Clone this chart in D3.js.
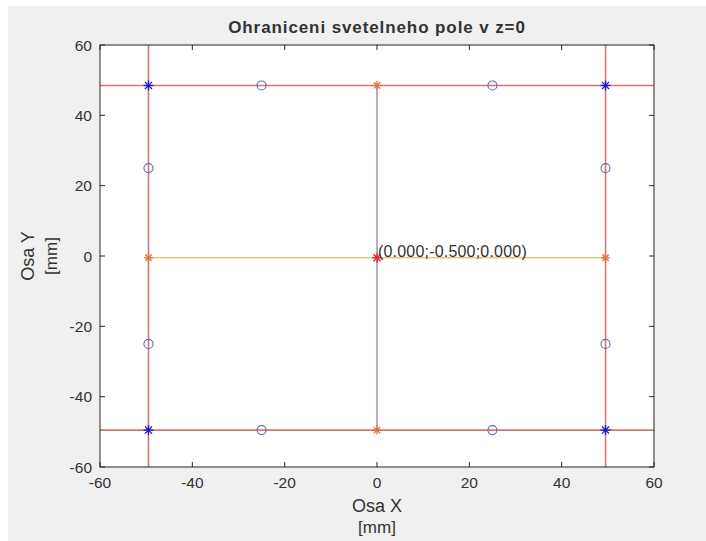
<!DOCTYPE html>
<html>
<head>
<meta charset="utf-8">
<script src="https://cdn.jsdelivr.net/npm/d3@7"></script>
<style>
  body { margin: 0; background: #fff; }
  text { font-family: "Liberation Sans", Arial, sans-serif; fill: #333; }
</style>
</head>
<body>
<script>
var width = 706;
var height = 541;

// data (mm)
const edgeX = [-49.5, 49.5];   // vertical red lines
const edgeY = [48.5, -49.5];   // horizontal red lines
const centre = [0, -0.5];
const cornerPts = [[-49.5, 48.5], [49.5, 48.5], [-49.5, -49.5], [49.5, -49.5]];
const midPts = [[0, 48.5], [0, -49.5], [-49.5, -0.5], [49.5, -0.5]];
const circlePts = [[-25, 48.5], [25, 48.5], [-25, -49.5], [25, -49.5],
                   [-49.5, 25], [-49.5, -25], [49.5, 25], [49.5, -25]];
const xTicks = [-60, -40, -20, 0, 20, 40, 60];
const yTicks = [-60, -40, -20, 0, 20, 40, 60];
const labelText = "(0.000;-0.500;0.000)";

// axes box in pixels ("top" is taken by window.top)
var axL = 100, axR = 654, axT = 45, axB = 467;

var x = d3.scaleLinear().domain([-60, 60]).range([axL, axR]);
var y = d3.scaleLinear().domain([-60, 60]).range([axB, axT]);

var svg = d3.select("body").append("svg")
    .attr("width", width)
    .attr("height", height);

// figure background
svg.append("rect").attr("x", 8).attr("y", 6)
    .attr("width", width - 8).attr("height", height - 6)
    .attr("fill", "#f0f0f0");

svg.append("rect").attr("x", axL).attr("y", axT)
    .attr("width", axR - axL).attr("height", axB - axT)
    .attr("fill", "#fff");

var plot = svg.append("g");

// red border lines over full axes
plot.selectAll(".vx").data(edgeX).enter().append("line")
    .attr("x1", d => x(d)).attr("x2", d => x(d))
    .attr("y1", y(60)).attr("y2", y(-60))
    .attr("stroke", "#d47676").attr("stroke-width", 1.6);
plot.selectAll(".hy").data(edgeY).enter().append("line")
    .attr("y1", d => y(d)).attr("y2", d => y(d))
    .attr("x1", x(-60)).attr("x2", x(60))
    .attr("stroke", "#d47676").attr("stroke-width", 1.6);

// purple vertical centre line
plot.append("line")
    .attr("x1", x(centre[0])).attr("x2", x(centre[0]))
    .attr("y1", y(edgeY[0])).attr("y2", y(edgeY[1]))
    .attr("stroke", "#a686b6").attr("stroke-width", 1.4);
// yellow horizontal centre line
plot.append("line")
    .attr("x1", x(edgeX[0])).attr("x2", x(edgeX[1]))
    .attr("y1", y(centre[1])).attr("y2", y(centre[1]))
    .attr("stroke", "#eac67e").attr("stroke-width", 1.4);

function asterisk(g, pts, color, r) {
    var s = g.selectAll(null).data(pts).enter().append("g")
        .attr("transform", d => "translate(" + x(d[0]) + "," + y(d[1]) + ")");
    var a = r * 0.7071;
    var segs = [[-r, 0, r, 0], [0, -r, 0, r], [-a, -a, a, a], [-a, a, a, -a]];
    segs.forEach(function(sg) {
        s.append("line").attr("x1", sg[0]).attr("y1", sg[1])
            .attr("x2", sg[2]).attr("y2", sg[3])
            .attr("stroke", color).attr("stroke-width", 1.3);
    });
}

plot.selectAll(".circ").data(circlePts).enter().append("circle")
    .attr("cx", d => x(d[0])).attr("cy", d => y(d[1]))
    .attr("r", 4.5)
    .attr("fill", "none").attr("stroke", "#5a72a8").attr("stroke-width", 1.1);

asterisk(plot, cornerPts, "#1a1ac8", 5);
asterisk(plot, midPts, "#e0703c", 4.5);
asterisk(plot, [centre], "#e8202a", 5);

svg.append("text")
    .attr("x", x(0.2)).attr("y", y(-0.5) - 1)
    .attr("font-size", 16).attr("letter-spacing", 0.2)
    .text(labelText);

// axes box + ticks
var tl = 5;
var ax = svg.append("g").attr("stroke", "#262626").attr("stroke-width", 1);
ax.append("rect").attr("x", axL).attr("y", axT)
    .attr("width", axR - axL).attr("height", axB - axT).attr("fill", "none");
ax.selectAll(".xt").data(xTicks).enter().append("path")
    .attr("d", d => "M" + x(d) + "," + axB + "v" + (-tl) + "M" + x(d) + "," + axT + "v" + tl);
ax.selectAll(".yt").data(yTicks).enter().append("path")
    .attr("d", d => "M" + axL + "," + y(d) + "h" + tl + "M" + axR + "," + y(d) + "h" + (-tl));

svg.selectAll(".xl").data(xTicks).enter().append("text")
    .attr("x", d => x(d)).attr("y", axB + 21)
    .attr("text-anchor", "middle").attr("font-size", 15.5)
    .text(d => d);
svg.selectAll(".yl").data(yTicks).enter().append("text")
    .attr("x", axL - 8).attr("y", d => y(d) + 5.5)
    .attr("text-anchor", "end").attr("font-size", 15.5)
    .text(d => d);

// title and axis labels
svg.append("text")
    .attr("x", (axL + axR) / 2).attr("y", 33)
    .attr("text-anchor", "middle").attr("font-size", 17).attr("font-weight", "bold")
    .attr("letter-spacing", 0.9)
    .attr("fill", "#000")
    .text("Ohraniceni svetelneho pole v z=0");

svg.append("text").attr("x", (axL + axR) / 2).attr("y", 512)
    .attr("text-anchor", "middle").attr("font-size", 18).text("Osa X");
svg.append("text").attr("x", (axL + axR) / 2).attr("y", 533)
    .attr("text-anchor", "middle").attr("font-size", 17).text("[mm]");

svg.append("text").attr("transform", "translate(34," + (axT + axB) / 2 + ") rotate(-90)")
    .attr("text-anchor", "middle").attr("font-size", 18).text("Osa Y");
svg.append("text").attr("transform", "translate(57," + (axT + axB) / 2 + ") rotate(-90)")
    .attr("text-anchor", "middle").attr("font-size", 17).text("[mm]");
</script>
</body>
</html>
